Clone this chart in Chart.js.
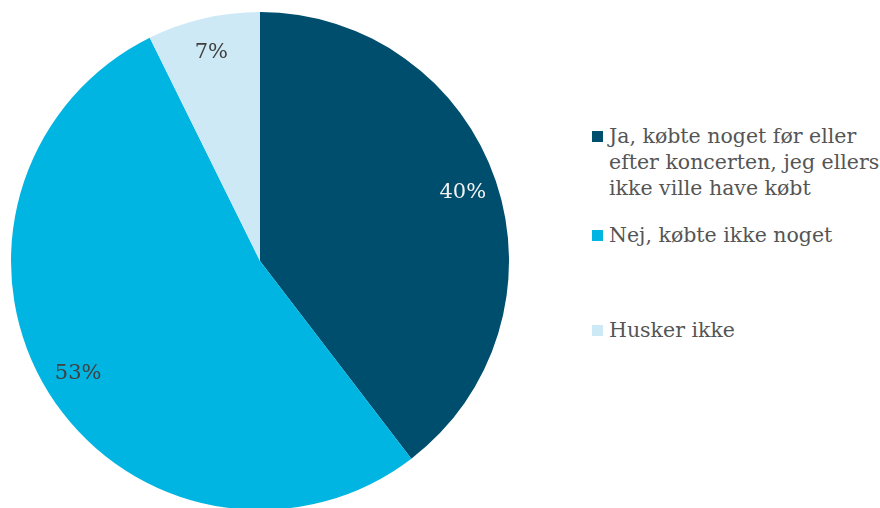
<!DOCTYPE html>
<html>
<head>
<meta charset="utf-8">
<script src="https://cdn.jsdelivr.net/npm/chart.js@4.4.1/dist/chart.umd.min.js"></script>
<style>
  html, body { margin: 0; padding: 0; background: #fff; overflow: hidden; }
  body { width: 880px; height: 508px; position: relative; }
  #pieWrap { position: absolute; left: 11px; top: 12px; width: 498px; height: 498px; }
  #legend { position: absolute; left: 592px; top: 0; width: 290px; font-family: "DejaVu Serif", serif; font-size: 20.5px; color: #555555; }
  .legend-item { position: absolute; left: 0; width: 290px; }
  .legend-item .box { position: absolute; left: 0; width: 11px; height: 11px; }
  .legend-item .txt { position: absolute; left: 17px; width: 275px; line-height: 26px; white-space: nowrap; }
</style>
</head>
<body>
<div id="pieWrap"><canvas id="pie"></canvas></div>
<div id="legend"></div>
<script>
const categories = [
    ["Ja, købte noget før eller", "efter koncerten, jeg ellers", "ikke ville have købt"],
    ["Nej, købte ikke noget"],
    ["Husker ikke"]
];
const shares = [39.6, 53.1, 7.3];
const valueLabels = ["40%", "53%", "7%"];
const sliceColors = ["#004e6d", "#00b5e2", "#cde9f6"];
const labelColors = ["#f2f2f2", "#404040", "#404040"];

// legend rows (top of first text line)
const legendTops = [123, 222, 317];

function renderLegend() {
    const container = document.getElementById("legend");
    container.innerHTML = categories
        .map((lines, i) => `
            <div class="legend-item" style="top:${legendTops[i]}px">
                <div class="box" style="top:8px;background:${sliceColors[i]}"></div>
                <div class="txt">${lines.join("<br>")}</div>
            </div>
        `)
        .join("");
}

// percentage labels inside slices
const sliceLabels = {
    id: "sliceLabels",
    afterDatasetsDraw(chart) {
        const ctx = chart.ctx;
        const meta = chart.getDatasetMeta(0);
        ctx.save();
        ctx.font = '21px "DejaVu Serif", serif';
        ctx.textAlign = "center";
        ctx.textBaseline = "middle";
        meta.data.forEach((arc, i) => {
            const p = arc.getProps(["x", "y", "startAngle", "endAngle", "outerRadius"], true);
            const mid = (p.startAngle + p.endAngle) / 2;
            const r = p.outerRadius * 0.86;
            ctx.fillStyle = labelColors[i];
            ctx.fillText(valueLabels[i], p.x + Math.cos(mid) * r, p.y + Math.sin(mid) * r);
        });
        ctx.restore();
    }
};

new Chart(document.getElementById("pie"), {
    type: "pie",
    data: {
        labels: categories.map(l => l.join(" ")),
        datasets: [{
            data: shares,
            backgroundColor: sliceColors,
            borderWidth: 0
        }]
    },
    options: {
        responsive: true,
        maintainAspectRatio: false,
        animation: false,
        layout: { padding: 0 },
        plugins: {
            legend: { display: false },
            tooltip: { enabled: false }
        }
    },
    plugins: [sliceLabels]
});

renderLegend();
</script>
</body>
</html>
